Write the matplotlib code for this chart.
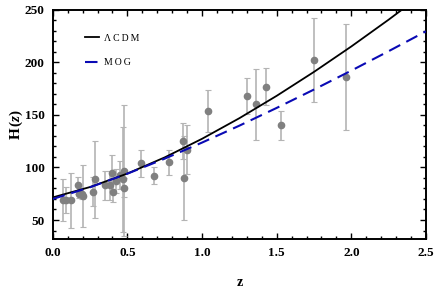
import numpy as np
import matplotlib
matplotlib.use('Agg')
import matplotlib.pyplot as plt
from matplotlib.ticker import MultipleLocator

plt.rcParams['font.family'] = ['Liberation Serif', 'DejaVu Serif']
plt.rcParams['mathtext.fontset'] = 'custom'
plt.rcParams['mathtext.it'] = 'Liberation Serif:italic:bold'
plt.rcParams['mathtext.rm'] = 'Liberation Serif:bold'

# H(z) measurements (z, H, sigma)
z_obs = [0.07, 0.09, 0.12, 0.17, 0.179, 0.199, 0.2, 0.27, 0.28, 0.352,
         0.3802, 0.4, 0.4004, 0.4247, 0.4497, 0.47, 0.4783, 0.48, 0.593, 0.68,
         0.781, 0.875, 0.88, 0.9, 1.037, 1.3, 1.363, 1.43, 1.53, 1.75, 1.965]
h_obs = [69, 69, 68.6, 83, 75, 75, 72.9, 77, 88.8, 83,
         83, 95, 77, 87.1, 92.8, 89, 80.9, 97, 104, 92,
         105, 125, 90, 117, 154, 168, 160, 177, 140, 202, 186.5]
h_err = [19.6, 12, 26.2, 8, 4, 5, 29.6, 14, 36.6, 14,
         13.5, 17, 10.2, 11.2, 12.9, 50, 9, 62, 13, 8,
         12, 17, 40, 23, 20, 17, 33.6, 18, 14, 40, 50.4]

# model curves
z_model = [0.0, 0.25, 0.5, 0.75, 1.0, 1.25, 1.5, 1.75, 2.0, 2.25, 2.5]
h_lcdm = [71.5, 81.4, 94.2, 109.6, 127.3, 146.9, 168.2, 191.0, 215.2, 240.7, 267.3]
h_mog = [70.0, 81.2, 94.1, 108.4, 123.7, 139.8, 156.7, 174.2, 192.2, 210.7, 229.6]

fig = plt.figure(figsize=(4.36, 2.91), dpi=100)
ax = fig.add_axes([0.121, 0.179, 0.856, 0.787])

ax.errorbar(z_obs, h_obs, yerr=h_err, fmt='o', color='#808080', ms=4.5,
            ecolor='#b4b4b4', elinewidth=1.2, capsize=2, capthick=0.8, zorder=2)
ax.plot(z_model, h_lcdm, color='black', lw=1.3, label='\u039b\u2009C\u2009D\u2009M', zorder=3)
ax.plot(z_model, h_mog, color='#0a0ab4', lw=1.5, ls=(0, (6, 3.3)),
        label='M\u2009O\u2009G', zorder=3)

ax.set_xlim(0, 2.5)
ax.set_ylim(32, 250)
ax.xaxis.set_major_locator(MultipleLocator(0.5))
ax.xaxis.set_minor_locator(MultipleLocator(0.1))
ax.yaxis.set_major_locator(MultipleLocator(50))
ax.yaxis.set_minor_locator(MultipleLocator(10))
ax.yaxis.set_major_formatter(plt.FuncFormatter(lambda v, p: '%d' % v))
ax.tick_params(which='both', direction='in', top=True, right=True, width=1)
ax.tick_params(which='major', length=4, labelsize=9.5, pad=6)
ax.tick_params(which='minor', length=2)
for lab in ax.get_xticklabels() + ax.get_yticklabels():
    lab.set_fontweight('bold')
for sp in ax.spines.values():
    sp.set_linewidth(1.4)

ax.set_xlabel('z', fontsize=10, fontweight='bold', labelpad=12)
ax.set_ylabel(r'$\mathrm{H}\,(z)$', fontsize=11, labelpad=0)

leg = ax.legend(loc='upper left', bbox_to_anchor=(0.062, 0.934), frameon=False,
                fontsize=7, handlelength=1.44, labelspacing=1.6, handletextpad=0.6)

fig.savefig('out.png', dpi=100)
